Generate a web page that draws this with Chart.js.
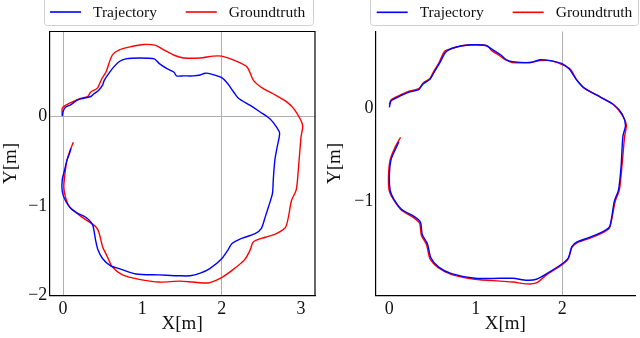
<!DOCTYPE html>
<html>
<head>
<meta charset="utf-8">
<script src="https://cdn.jsdelivr.net/npm/chart.js@4.4.0/dist/chart.umd.min.js"></script>
<style>
body { margin: 0; background: #fff; }
#wrap { position: relative; width: 640px; height: 338px; }
.box { position: absolute; top: 0; width: 320px; height: 338px; }
</style>
</head>
<body>
<div id="wrap">
  <div class="box" style="left:0"><canvas id="leftChart" width="320" height="338"></canvas></div>
  <div class="box" style="left:320px"><canvas id="rightChart" width="320" height="338"></canvas></div>
</div>
<script>
var seriesLabels = ["Trajectory", "Groundtruth"];

// left plot (drifted estimate)
var leftTrajX = [-0.01, 0.00, 0.03, 0.10, 0.18, 0.26, 0.35, 0.39, 0.45, 0.50, 0.52, 0.58, 0.64, 0.71, 0.79, 0.96, 1.15, 1.21, 1.31, 1.40, 1.43, 1.52, 1.64, 1.73, 1.79, 1.87, 2.00, 2.08, 2.15, 2.21, 2.36, 2.48, 2.61, 2.69, 2.73, 2.70, 2.67, 2.65, 2.64, 2.59, 2.55, 2.50, 2.42, 2.23, 2.13, 2.08, 2.00, 1.85, 1.73, 1.60, 1.47, 1.21, 0.92, 0.71, 0.60, 0.50, 0.44, 0.41, 0.38, 0.35, 0.29, 0.18, 0.10, 0.03, -0.01, -0.01, 0.02, 0.05, 0.08, 0.10];
var leftTrajY = [0.00, 0.05, 0.10, 0.13, 0.18, 0.20, 0.22, 0.25, 0.29, 0.35, 0.40, 0.48, 0.55, 0.61, 0.64, 0.65, 0.64, 0.59, 0.53, 0.49, 0.45, 0.45, 0.45, 0.46, 0.48, 0.47, 0.43, 0.36, 0.27, 0.20, 0.12, 0.05, -0.03, -0.12, -0.19, -0.34, -0.49, -0.71, -0.86, -1.01, -1.12, -1.25, -1.31, -1.37, -1.42, -1.49, -1.59, -1.70, -1.75, -1.78, -1.78, -1.77, -1.76, -1.70, -1.67, -1.59, -1.49, -1.38, -1.23, -1.18, -1.13, -1.08, -1.03, -0.94, -0.84, -0.71, -0.60, -0.49, -0.42, -0.36];
var leftGtX = [-0.01, -0.01, 0.03, 0.12, 0.22, 0.31, 0.35, 0.43, 0.49, 0.54, 0.62, 0.71, 0.83, 1.02, 1.17, 1.27, 1.40, 1.52, 1.73, 1.89, 2.00, 2.17, 2.32, 2.40, 2.52, 2.69, 2.82, 2.92, 3.02, 3.00, 2.97, 2.94, 2.88, 2.81, 2.69, 2.55, 2.40, 2.36, 2.29, 2.13, 1.98, 1.83, 1.64, 1.47, 1.21, 0.96, 0.75, 0.62, 0.56, 0.50, 0.45, 0.41, 0.33, 0.20, 0.08, 0.03, 0.01, 0.03, 0.05, 0.09, 0.13];
var leftGtY = [0.01, 0.09, 0.12, 0.16, 0.20, 0.22, 0.27, 0.31, 0.42, 0.49, 0.68, 0.74, 0.77, 0.80, 0.79, 0.74, 0.68, 0.65, 0.65, 0.67, 0.67, 0.62, 0.55, 0.40, 0.31, 0.23, 0.16, 0.07, -0.10, -0.23, -0.55, -0.82, -0.94, -1.23, -1.31, -1.35, -1.40, -1.49, -1.60, -1.72, -1.81, -1.86, -1.85, -1.84, -1.85, -1.82, -1.77, -1.68, -1.57, -1.46, -1.29, -1.23, -1.18, -1.10, -1.01, -0.90, -0.79, -0.60, -0.49, -0.38, -0.29];

// right plot (corrected estimate)
var rightTrajX = [0.00, 0.02, 0.10, 0.22, 0.34, 0.39, 0.47, 0.52, 0.58, 0.65, 0.72, 0.84, 0.99, 1.12, 1.19, 1.29, 1.35, 1.42, 1.63, 1.74, 1.86, 1.99, 2.08, 2.16, 2.25, 2.44, 2.59, 2.69, 2.73, 2.70, 2.68, 2.65, 2.60, 2.55, 2.49, 2.32, 2.17, 2.11, 2.07, 1.99, 1.82, 1.70, 1.59, 1.43, 1.28, 0.99, 0.72, 0.57, 0.48, 0.44, 0.38, 0.36, 0.29, 0.14, 0.05, 0.01, 0.00, 0.02, 0.08, 0.11];
var rightTrajY = [0.01, 0.08, 0.12, 0.17, 0.20, 0.26, 0.31, 0.39, 0.48, 0.60, 0.64, 0.67, 0.68, 0.67, 0.63, 0.57, 0.52, 0.50, 0.49, 0.52, 0.51, 0.48, 0.42, 0.31, 0.22, 0.12, 0.04, -0.06, -0.18, -0.30, -0.61, -0.87, -1.00, -1.26, -1.31, -1.38, -1.43, -1.48, -1.60, -1.67, -1.77, -1.83, -1.84, -1.82, -1.82, -1.82, -1.77, -1.70, -1.60, -1.45, -1.35, -1.22, -1.16, -1.08, -0.97, -0.88, -0.73, -0.55, -0.42, -0.36];
var rightGtX = [0.00, 0.02, 0.10, 0.22, 0.34, 0.39, 0.47, 0.51, 0.57, 0.64, 0.72, 0.84, 0.99, 1.13, 1.18, 1.28, 1.34, 1.42, 1.63, 1.74, 1.86, 1.99, 2.09, 2.17, 2.26, 2.44, 2.59, 2.69, 2.74, 2.72, 2.69, 2.66, 2.61, 2.55, 2.49, 2.32, 2.17, 2.11, 2.07, 1.99, 1.82, 1.70, 1.59, 1.43, 1.28, 0.99, 0.72, 0.57, 0.47, 0.43, 0.37, 0.35, 0.28, 0.14, 0.05, 0.00, -0.01, 0.01, 0.07, 0.13];
var rightGtY = [0.04, 0.09, 0.13, 0.18, 0.21, 0.27, 0.32, 0.39, 0.48, 0.61, 0.64, 0.67, 0.68, 0.67, 0.62, 0.56, 0.52, 0.49, 0.49, 0.51, 0.51, 0.47, 0.42, 0.30, 0.21, 0.12, 0.04, -0.07, -0.18, -0.30, -0.61, -0.87, -1.00, -1.27, -1.32, -1.39, -1.44, -1.49, -1.61, -1.68, -1.78, -1.87, -1.88, -1.86, -1.85, -1.83, -1.78, -1.71, -1.61, -1.46, -1.36, -1.23, -1.17, -1.09, -0.98, -0.89, -0.73, -0.55, -0.41, -0.31];

var leftXTicks = [0, 1, 2, 3];
var leftYTicks = [0, -1, -2];
var rightXTicks = [0, 1, 2];
var rightYTicks = [0, -1];
var leftGridX = [0, 2];
var leftGridY = [0];
var rightGridX = [2];
var rightGridY = [];

var serif = '"Liberation Serif", "DejaVu Serif", serif';

function toPoints(xs, ys)
{
    var pts = [];
    for (var i = 0; i < xs.length; i++)
    {
        pts.push({x: xs[i], y: ys[i]});
    }
    return pts;
}

function tickText(v)
{
    return v < 0 ? '\u2212' + Math.abs(v) : '' + v;
}

// legend in a rounded box, drawn from the datasets
var boxLegend = {
    id: 'boxLegend',
    afterDraw: function (chart, args, opts) {
        var ctx = chart.ctx;
        ctx.save();
        ctx.fillStyle = 'rgba(255,255,255,0.8)';
        ctx.strokeStyle = '#d0d0d0';
        ctx.lineWidth = 1;
        ctx.beginPath();
        if (ctx.roundRect) ctx.roundRect(opts.left + 0.5, -4.5, opts.right - opts.left, 30, 3);
        else ctx.rect(opts.left + 0.5, -4.5, opts.right - opts.left, 30);
        ctx.fill();
        ctx.stroke();
        ctx.font = '15.5px ' + serif;
        ctx.textBaseline = 'middle';
        chart.data.datasets.forEach(function (ds, i) {
            var x = opts.x + i * opts.step;
            ctx.strokeStyle = ds.borderColor;
            ctx.lineWidth = 1.6;
            ctx.beginPath();
            ctx.moveTo(x, opts.y);
            ctx.lineTo(x + 31, opts.y);
            ctx.stroke();
            ctx.fillStyle = '#111';
            ctx.fillText(ds.label, x + 43, opts.y + 1);
        });
        ctx.restore();
    }
};

// top and right spines
var frame = {
    id: 'frame',
    afterDraw: function (chart, args, opts) {
        if (!opts.full) return;
        var a = chart.chartArea;
        var ctx = chart.ctx;
        ctx.save();
        ctx.strokeStyle = '#000';
        ctx.lineWidth = 1.2;
        ctx.beginPath();
        ctx.moveTo(a.left, a.top);
        ctx.lineTo(a.right, a.top);
        ctx.lineTo(a.right, a.bottom);
        ctx.stroke();
        ctx.restore();
    }
};

function makeTrajChart(id, cfg)
{
    var el = document.getElementById(id);
    return new Chart(el, {
        type: 'scatter',
        data: {
            datasets: [{
                label: seriesLabels[0],
                data: toPoints(cfg.trajX, cfg.trajY),
                borderColor: '#0000ff',
                backgroundColor: '#0000ff',
                showLine: true,
                pointRadius: 0,
                borderWidth: 1.4,
                tension: 0.25
            },
            {
                label: seriesLabels[1],
                data: toPoints(cfg.gtX, cfg.gtY),
                borderColor: '#ff0000',
                backgroundColor: '#ff0000',
                showLine: true,
                pointRadius: 0,
                borderWidth: 1.4,
                tension: 0.25
            }]
        },
        options: {
            responsive: false,
            animation: false,
            devicePixelRatio: 1,
            layout: {
                padding: {top: 31.5, right: 5, left: 0, bottom: 0}
            },
            plugins: {
                legend: {display: false},
                tooltip: {enabled: false},
                boxLegend: cfg.legend,
                frame: {full: cfg.fullFrame}
            },
            scales: {
                x: {
                    type: 'linear',
                    min: cfg.xMin,
                    max: cfg.xMax,
                    afterBuildTicks: function (scale) {
                        scale.ticks = cfg.xTicks.map(function (v) { return {value: v}; });
                    },
                    afterFit: function (scale) { scale.height = 42.5; },
                    ticks: {
                        callback: tickText,
                        color: '#111',
                        padding: 3,
                        maxRotation: 0,
                        font: {family: serif, size: 18}
                    },
                    grid: {
                        drawTicks: false,
                        lineWidth: 1,
                        color: function (c) {
                            return c.tick && cfg.gridX.indexOf(c.tick.value) >= 0 ? '#b0b0b0' : 'rgba(0,0,0,0)';
                        }
                    },
                    border: {display: true, color: '#000', width: 1.2},
                    title: {
                        display: true,
                        text: 'X[m]',
                        color: '#111',
                        padding: {top: 0, bottom: 3},
                        font: {family: serif, size: 19}
                    }
                },
                y: {
                    type: 'linear',
                    min: cfg.yMin,
                    max: cfg.yMax,
                    afterBuildTicks: function (scale) {
                        scale.ticks = cfg.yTicks.map(function (v) { return {value: v}; });
                    },
                    afterFit: function (scale) { scale.width = cfg.yWidth; },
                    ticks: {
                        callback: tickText,
                        color: '#111',
                        padding: 2,
                        font: {family: serif, size: 18}
                    },
                    grid: {
                        drawTicks: false,
                        lineWidth: 1,
                        color: function (c) {
                            return c.tick && cfg.gridY.indexOf(c.tick.value) >= 0 ? '#b0b0b0' : 'rgba(0,0,0,0)';
                        }
                    },
                    border: {display: true, color: '#000', width: 1.2},
                    title: {
                        display: true,
                        text: 'Y[m]',
                        color: '#111',
                        padding: {top: cfg.yTitlePad, bottom: 0},
                        font: {family: serif, size: 19}
                    }
                }
            }
        },
        plugins: [boxLegend, frame]
    });
}

var leftChart = makeTrajChart('leftChart', {
    trajX: leftTrajX, trajY: leftTrajY, gtX: leftGtX, gtY: leftGtY,
    xMin: -0.173, xMax: 3.176, yMin: -2.0, yMax: 0.945,
    xTicks: leftXTicks, yTicks: leftYTicks,
    gridX: leftGridX, gridY: leftGridY,
    yWidth: 49.3, yTitlePad: 0, fullFrame: true,
    legend: {left: 44, right: 313, x: 50, step: 135.7, y: 12}
});

var rightChart = makeTrajChart('rightChart', {
    trajX: rightTrajX, trajY: rightTrajY, gtX: rightGtX, gtY: rightGtY,
    xMin: -0.16, xMax: 2.84, yMin: -2.004, yMax: 0.822,
    xTicks: rightXTicks, yTicks: rightYTicks,
    gridX: rightGridX, gridY: rightGridY,
    yWidth: 55.5, yTitlePad: 4, fullFrame: false,
    legend: {left: 50, right: 318, x: 56.7, step: 136, y: 12.3}
});
</script>
</body>
</html>
